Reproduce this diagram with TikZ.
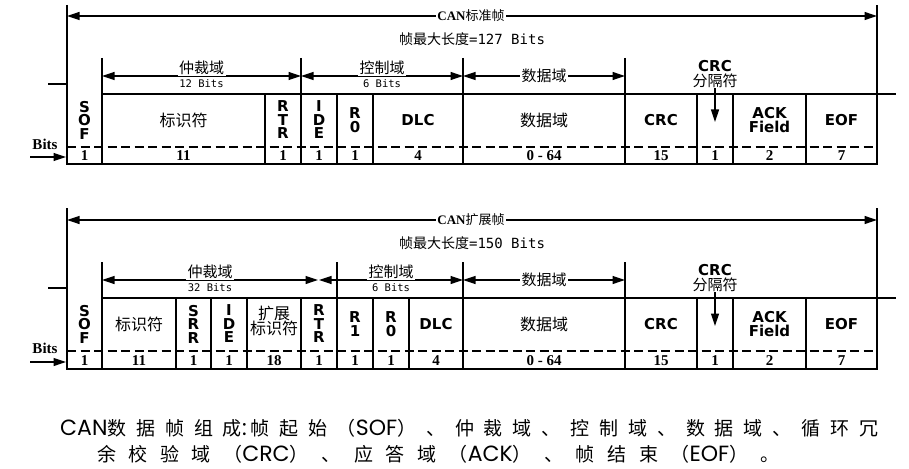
\documentclass[tikz,border=0pt]{standalone}
\usepackage{fontspec}
\setmainfont{Liberation Serif}
\newfontfamily\cjk{Noto Sans CJK SC}
\newfontfamily\bsans{DejaVu Sans}
\newfontfamily\mono{DejaVu Sans Mono}
\newfontfamily\capcjk[LetterSpace=52]{Noto Sans CJK SC}
\newfontfamily\capcjkb[LetterSpace=66]{Noto Sans CJK SC}
\newfontfamily\caplat{Poppins}
\newcommand\capL[1]{{\caplat\fontsize{22}{22}\selectfont #1}}
\usetikzlibrary{arrows.meta}
\tikzset{
  bigtip/.tip={Triangle[length=12.5pt,width=8pt]},
  frameln/.style={line width=1.4pt},
  cellln/.style={line width=1.2pt},
  dashln/.style={line width=1.2pt, dash pattern=on 9pt off 4.5pt},
  darr/.style={line width=1.2pt, bigtip-bigtip},
  arr/.style={line width=1.2pt, -bigtip},
  titlelbl/.style={fill=white, inner sep=1.5pt},
  maxlbl/.style={inner sep=0pt},
  seclbl/.style={fill=white, inner sep=1.5pt, font=\cjk\fontsize{15}{15}\selectfont},
  bitlbl/.style={fill=white, inner xsep=1.5pt, inner ysep=2.5pt, font=\mono\fontsize{10.5}{10.5}\selectfont},
  crclbl/.style={inner sep=0pt, font=\bsans\bfseries\fontsize{15}{15}\selectfont},
  fld/.style={inner sep=0pt, align=center, font=\bsans\bfseries\fontsize{15}{13.5}\selectfont},
  fldtwo/.style={inner sep=0pt, align=center, font=\bsans\bfseries\fontsize{15}{14}\selectfont},
  cjkfld/.style={inner sep=0pt, align=center, font=\cjk\fontsize{16}{15}\selectfont},
  num/.style={inner sep=0pt, font=\bfseries\fontsize{15}{15}\selectfont},
  bitstxt/.style={inner sep=0pt, font=\bfseries\fontsize{15}{15}\selectfont},
  captxt/.style={inner sep=0pt, anchor=west, font=\capcjk\fontsize{19}{19}\selectfont},
  captxtb/.style={inner sep=0pt, anchor=west, font=\capcjkb\fontsize{19}{19}\selectfont},
}
\begin{document}
\begin{tikzpicture}[x=1pt,y=-1pt]
\useasboundingbox (0,0) rectangle (909,468);
\fill[white] (0,0) rectangle (909,468);

%================ standard frame ================
\begin{scope}
\coordinate (uL) at (67,16); \coordinate (uR) at (877,16);
\draw[darr] (uL) -- (uR);
\node[titlelbl] (uTitle) at (471,16) {{\bfseries\fontsize{13}{13}\selectfont CAN}{\cjk\fontsize{13}{13}\selectfont 标准帧}};
\node[maxlbl] (uMax) at (472,39) {{\cjk\fontsize{14}{14}\selectfont 帧最大长度}{\mono\fontsize{14}{14}\selectfont =127 Bits}};
\coordinate (uA0) at (102,76); \coordinate (uA1) at (301,76);
\coordinate (uA2) at (463,76); \coordinate (uA3) at (625,76);
\draw[darr] (uA0) -- (uA1);
\draw[darr] (uA1) -- (uA2);
\draw[darr] (uA2) -- (uA3);
\node[seclbl] (uArbT) at (201.5,68) {仲裁域};
\node[bitlbl] (uArbB) at (201.5,84) {12 Bits};
\node[seclbl] (uCtlT) at (382,68) {控制域};
\node[bitlbl] (uCtlB) at (382,84) {6 Bits};
\node[seclbl] (uDat) at (544,76) {数据域};
\node[crclbl] (uCrcT) at (715,66) {CRC};
\node[seclbl, fill=none, inner sep=0pt] (uCrcB) at (715,81) {分隔符};
% lines
\draw[frameln] (67,5) -- (67,164) -- (877,164) -- (877,5);
\draw[cellln] (102,94) -- (896,94);
\draw[frameln] (48,84) -- (67,84);
\foreach \x in {102,301,463,625} \draw[cellln] (\x,58) -- (\x,164);
\foreach \x in {265,337,373,697,733,806} \draw[cellln] (\x,94) -- (\x,164);
\draw[dashln] (67,147) -- (877,147);
% bits
\node[bitstxt] (uBits) at (45,144) {Bits};
\coordinate (uBa) at (30,157); \coordinate (uBb) at (66,157);
\draw[arr] (uBa) -- (uBb);
% fields
\node[fld] (uSOF) at (84.5,120) {S\\O\\F};
\node[cjkfld] (uID) at (183.5,120) {标识符};
\node[fld] (uRTR) at (283,120) {R\\T\\R};
\node[fld] (uIDE) at (319,120) {I\\D\\E};
\node[fld] (uR0) at (355,120) {R\\0};
\node[fld] (uDLC) at (418,120) {DLC};
\node[cjkfld] (uData) at (544,120) {数据域};
\node[fld] (uCRC) at (661,120) {CRC};
\node[fldtwo] (uACK) at (769.5,120) {ACK\\Field};
\node[fld] (uEOF) at (841.5,120) {EOF};
\coordinate (uDtip) at (715,122);
\draw[arr] (uCrcB.south) -- (uDtip);
% numbers
\node[num] (uN1) at (84.5,156) {1};
\node[num] (uN2) at (183.5,156) {11};
\node[num] (uN3) at (283,156) {1};
\node[num] (uN4) at (319,156) {1};
\node[num] (uN5) at (355,156) {1};
\node[num] (uN6) at (418,156) {4};
\node[num] (uN7) at (544,156) {0 - 64};
\node[num] (uN8) at (661,156) {15};
\node[num] (uN9) at (715,156) {1};
\node[num] (uN10) at (769.5,156) {2};
\node[num] (uN11) at (841.5,156) {7};
\end{scope}

%================ extended frame ================
\begin{scope}[yshift=-204pt]
\coordinate (lL) at (67,16); \coordinate (lR) at (877,16);
\draw[darr] (lL) -- (lR);
\node[titlelbl] (lTitle) at (471,16) {{\bfseries\fontsize{13}{13}\selectfont CAN}{\cjk\fontsize{13}{13}\selectfont 扩展帧}};
\node[maxlbl] (lMax) at (472,39) {{\cjk\fontsize{14}{14}\selectfont 帧最大长度}{\mono\fontsize{14}{14}\selectfont =150 Bits}};
\coordinate (lA0) at (102,76); \coordinate (lA1) at (318,76);
\coordinate (lA1b) at (319,76);
\coordinate (lA2) at (463,76); \coordinate (lA3) at (625,76);
\draw[darr] (lA0) -- (lA1);
\draw[darr] (lA1b) -- (lA2);
\draw[darr] (lA2) -- (lA3);
\node[seclbl] (lArbT) at (210,68) {仲裁域};
\node[bitlbl] (lArbB) at (210,84) {32 Bits};
\node[seclbl] (lCtlT) at (391,68) {控制域};
\node[bitlbl] (lCtlB) at (391,84) {6 Bits};
\node[seclbl] (lDat) at (544,76) {数据域};
\node[crclbl] (lCrcT) at (715,66) {CRC};
\node[seclbl, fill=none, inner sep=0pt] (lCrcB) at (715,81) {分隔符};
% lines
\draw[frameln] (67,4) -- (67,165) -- (877,165) -- (877,4);
\draw[cellln] (102,94) -- (896,94);
\draw[frameln] (48,84) -- (67,84);
\foreach \x in {102,337,463,625} \draw[cellln] (\x,58) -- (\x,165);
\foreach \x in {176,211,247,301,373,409,697,733,806} \draw[cellln] (\x,94) -- (\x,165);
\draw[dashln] (67,147) -- (877,147);
% bits
\node[bitstxt] (lBits) at (45,144) {Bits};
\coordinate (lBa) at (30,158); \coordinate (lBb) at (66,158);
\draw[arr] (lBa) -- (lBb);
% fields
\node[fld] (lSOF) at (84.5,120) {S\\O\\F};
\node[cjkfld] (lID) at (139,120) {标识符};
\node[fld] (lSRR) at (193.5,120) {S\\R\\R};
\node[fld] (lIDE) at (229,120) {I\\D\\E};
\node[cjkfld] (lEID) at (274,117) {扩展\\标识符};
\node[fld] (lRTR) at (319,120) {R\\T\\R};
\node[fld] (lR1) at (355,120) {R\\1};
\node[fld] (lR0) at (391,120) {R\\0};
\node[fld] (lDLC) at (436,120) {DLC};
\node[cjkfld] (lData) at (544,120) {数据域};
\node[fld] (lCRC) at (661,120) {CRC};
\node[fldtwo] (lACK) at (769.5,120) {ACK\\Field};
\node[fld] (lEOF) at (841.5,120) {EOF};
\coordinate (lDtip) at (715,122);
\draw[arr] (lCrcB.south) -- (lDtip);
% numbers
\node[num] (lN1) at (84.5,157) {1};
\node[num] (lN2) at (139,157) {11};
\node[num] (lN3) at (193.5,157) {1};
\node[num] (lN4) at (229,157) {1};
\node[num] (lN5) at (274,157) {18};
\node[num] (lN6) at (319,157) {1};
\node[num] (lN7) at (355,157) {1};
\node[num] (lN8) at (391,157) {1};
\node[num] (lN9) at (436,157) {4};
\node[num] (lN10) at (544,157) {0 - 64};
\node[num] (lN11) at (661,157) {15};
\node[num] (lN12) at (715,157) {1};
\node[num] (lN13) at (769.5,157) {2};
\node[num] (lN14) at (841.5,157) {7};
\end{scope}

%================ caption ================
\node[captxt] (cap1) at (60,428) {\capL{CAN}数据帧组成\capL{:\,}帧起始（\capL{SOF}）、仲裁域、控制域、数据域、循环冗};
\node[captxtb] (cap2) at (97,454) {余校验域（\capL{CRC}）、\hspace{14pt}应答域（\capL{ACK}）、帧结束（\capL{EOF}）。};
\end{tikzpicture}
\end{document}
